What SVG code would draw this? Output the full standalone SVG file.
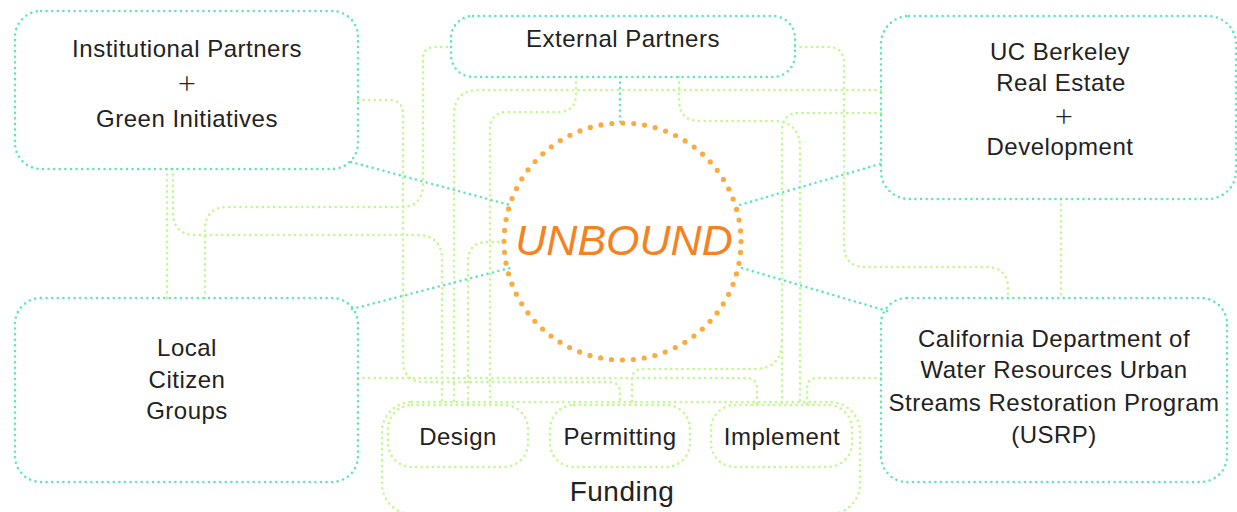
<svg xmlns="http://www.w3.org/2000/svg" width="1237" height="512" viewBox="0 0 1237 512">
<style>
.box{fill:none;stroke:#5ee6b9;stroke-width:2.6;stroke-dasharray:0 5.6;stroke-linecap:round}
.tl{fill:none;stroke:#5ee6b9;stroke-width:2.6;stroke-dasharray:0 5.6;stroke-linecap:round}
.gb{fill:none;stroke:#bff98a;stroke-width:2.6;stroke-dasharray:0 5.6;stroke-linecap:round}
.g{fill:none;stroke:#bff98a;stroke-width:2.6;stroke-dasharray:0 5.6;stroke-linecap:round}
.t{font-family:"Liberation Sans",Arial,sans-serif;font-size:24px;fill:#222;text-anchor:middle;letter-spacing:0.5px}
.p{font-family:"Open Sans","Liberation Sans",sans-serif;font-weight:300;font-size:32px;fill:#222;text-anchor:middle}
</style>
<rect width="1237" height="512" fill="#fff"/>
<g id="connectors">
<path class="g" d="M167,169 V298"/>
<path class="g" d="M173,169 V212 Q173,235 196,235 H417 Q442,235 442,260 V405"/>
<path class="g" d="M205,298 V230 Q205,207 228,207 H400 Q423,207 423,184 V59 Q423,47 435,47 H451"/>
<path class="g" d="M358,100 H389 Q403,100 403,114 V360 Q403,382 425,382 H609 Q620,382 620,393 V405"/>
<path class="g" d="M358,378 H746 Q757,378 757,389 V405"/>
<path class="g" d="M881,90 H479 Q454,90 454,115 V405"/>
<path class="g" d="M504,242 H488 Q468,242 468,262 V405"/>
<path class="g" d="M576,77 V94 Q576,112 558,112 H508 Q490,112 490,130 V405"/>
<path class="g" d="M679,77 V100 Q679,121 700,121 H773 Q800,121 800,148 V405"/>
<path class="g" d="M881,113 H800 Q782,113 782,131 V341 Q782,369 754,369 H643 Q632,369 632,380 V405"/>
<path class="g" d="M782,341 V405"/>
<path class="g" d="M881,378 H818 Q807,378 807,389 V405"/>
<path class="g" d="M795,47 H828 Q844,47 844,63 V245 Q844,267 866,267 H986 Q1008,267 1008,289 V298"/>
<path class="g" d="M1061,199 V298"/>
<path class="tl" d="M351,162 L510,205"/>
<path class="tl" d="M352,309 L510,268"/>
<path class="tl" d="M880,164 L736,206"/>
<path class="tl" d="M742,268 L887,311"/>
<path class="tl" d="M620,77 V122"/>
</g>
<g id="unbound">
<circle cx="622.5" cy="241.5" r="118.5" fill="none" stroke="#fbab3e" stroke-width="5.2" stroke-dasharray="0 10.95" stroke-linecap="round"/>
<text x="624" y="255" font-family="Liberation Sans, Arial, sans-serif" font-style="italic" font-size="43" fill="#f5821f" text-anchor="middle">UNBOUND</text>
</g>
<g id="institutional">
<rect class="box" x="15" y="11" width="343" height="158" rx="26"/>
<text class="t" x="187" y="57">Institutional Partners</text>
<text class="p" x="187" y="95">+</text>
<text class="t" x="187" y="127">Green Initiatives</text>
</g>
<g id="external">
<rect class="box" x="451" y="16" width="344" height="61" rx="22"/>
<text class="t" x="623" y="47">External Partners</text>
</g>
<g id="ucberkeley">
<rect class="box" x="881" y="16" width="355" height="183" rx="28"/>
<text class="t" x="1060" y="60">UC Berkeley</text>
<text class="t" x="1061" y="91">Real Estate</text>
<text class="p" x="1064" y="128">+</text>
<text class="t" x="1060" y="155">Development</text>
</g>
<g id="local">
<rect class="box" x="15" y="298" width="343" height="184" rx="26"/>
<text class="t" x="187" y="356">Local</text>
<text class="t" x="187" y="388">Citizen</text>
<text class="t" x="187" y="419">Groups</text>
</g>
<g id="california">
<rect class="box" x="881" y="298" width="346" height="184" rx="26"/>
<text class="t" x="1054" y="347">California Department of</text>
<text class="t" x="1054" y="378">Water Resources Urban</text>
<text class="t" x="1054" y="411">Streams Restoration Program</text>
<text class="t" x="1054" y="443">(USRP)</text>
</g>
<g id="funding">
<rect class="gb" x="382" y="402" width="478" height="112" rx="30"/>
<text class="t" x="622" y="501" style="font-size:28px">Funding</text>
</g>
<g id="design">
<rect class="gb" x="388" y="405" width="140" height="62" rx="24"/>
<text class="t" x="458" y="445">Design</text>
</g>
<g id="permitting">
<rect class="gb" x="550" y="405" width="140" height="62" rx="24"/>
<text class="t" x="620" y="445">Permitting</text>
</g>
<g id="implement">
<rect class="gb" x="711" y="405" width="141" height="62" rx="24"/>
<text class="t" x="782" y="445">Implement</text>
</g>
</svg>
